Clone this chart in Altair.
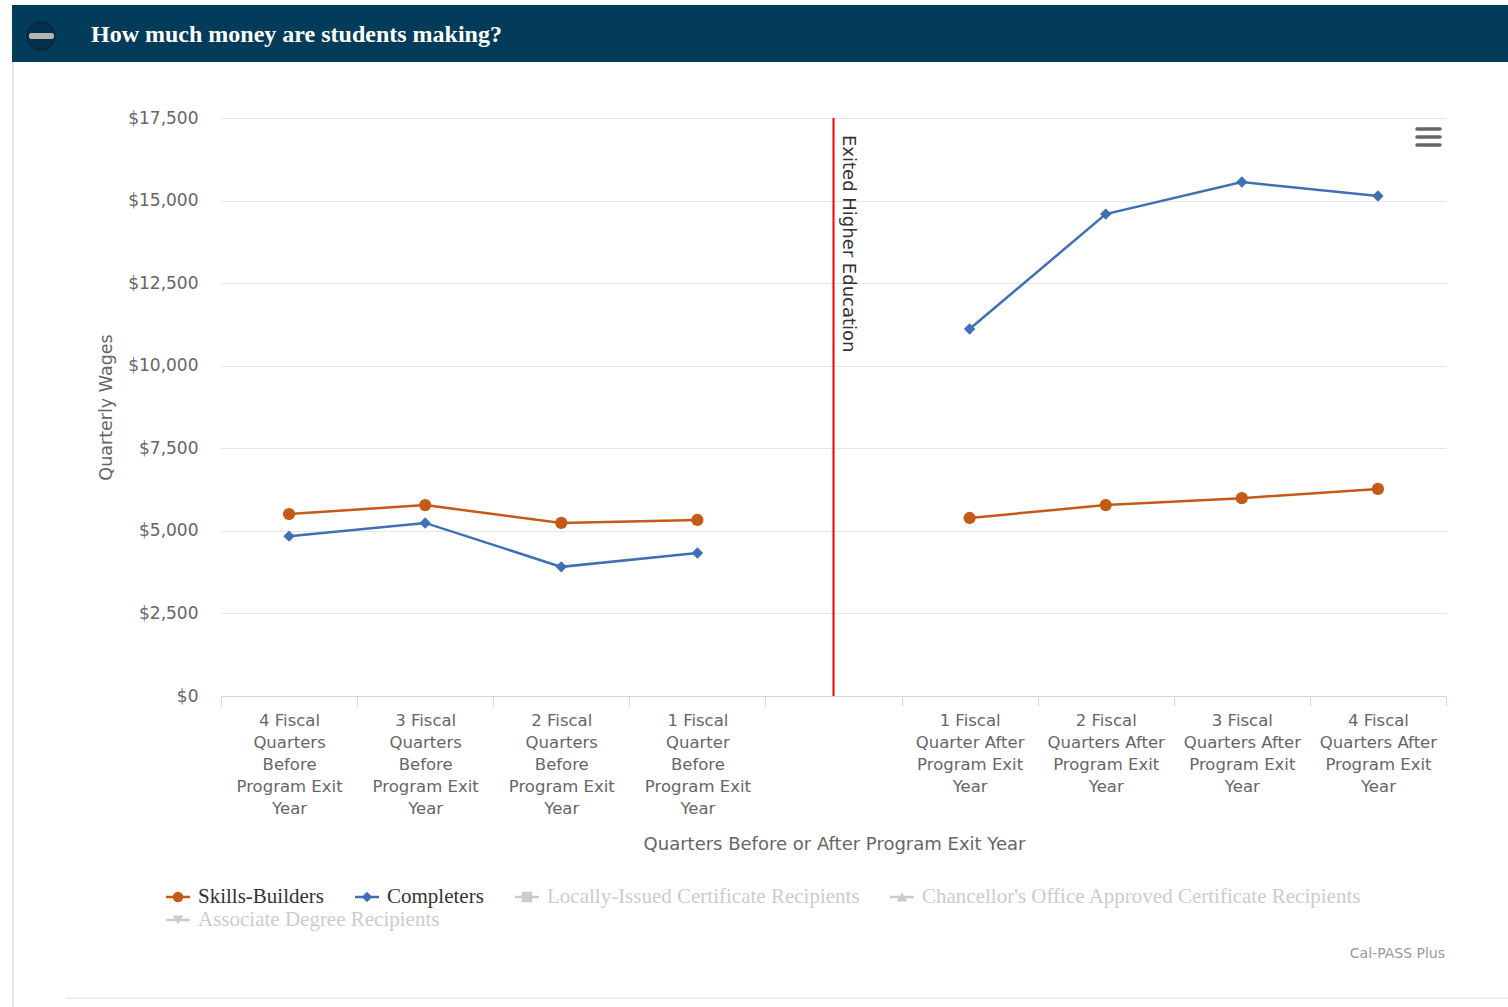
import altair as alt
import pandas as pd

# ---------------- data ----------------
categories = [
    "4 Fiscal|Quarters|Before|Program Exit|Year",
    "3 Fiscal|Quarters|Before|Program Exit|Year",
    "2 Fiscal|Quarters|Before|Program Exit|Year",
    "1 Fiscal|Quarter|Before|Program Exit|Year",
    " ",
    "1 Fiscal|Quarter After|Program Exit|Year",
    "2 Fiscal|Quarters After|Program Exit|Year",
    "3 Fiscal|Quarters After|Program Exit|Year",
    "4 Fiscal|Quarters After|Program Exit|Year",
]
phases = ["before", "before", "before", "before", None, "after", "after", "after", "after"]
exit_category = " "
exit_label = "Exited Higher Education"

series_names = ["Skills-Builders", "Completers"]
skills_builders = [5510, 5780, 5240, 5330, None, 5390, 5780, 5990, 6270]
completers = [4840, 5240, 3910, 4330, None, 11110, 14590, 15560, 15140]

y_ticks = [0, 2500, 5000, 7500, 10000, 12500, 15000, 17500]

legend_names = [
    "Skills-Builders",
    "Completers",
    "Locally-Issued Certificate Recipients",
    "Chancellor's Office Approved Certificate Recipients",
    "Associate Degree Recipients",
]
legend_shapes = ["circle", "diamond", "square", "triangle-up", "triangle-down"]
legend_active = [True, True, False, False, False]

panel_title = "How much money are students making?"
credit_text = "Cal-PASS Plus"
x_title = "Quarters Before or After Program Exit Year"
y_title = "Quarterly Wages"

# ---------------- styling / layout ----------------
ORANGE = "#c55a17"
BLUE = "#3f6fb5"
INACTIVE = "#cccccc"
HEADER = "#033b5a"
SANS = "DejaVu Sans"
SERIF = "Liberation Serif"

PAGE_W, PAGE_H = 1508, 1007
LEFT, TOP = 221, 118
W, H = 1225, 578

# legend item anchors (symbol centre line) in page pixels
legend_pos = [(166, 897), (355, 897), (515, 897), (890, 897), (166, 920)]


def px(x):
    return x - LEFT


def py(y):
    return y - TOP


# ---------------- long table for the series ----------------
rows = []
for name, vals in zip(series_names, [skills_builders, completers]):
    for cat, ph, v in zip(categories, phases, vals):
        if v is None:
            continue
        rows.append({"cat": cat, "series": name, "segment": f"{name}-{ph}", "value": v})
df = pd.DataFrame(rows)

x_enc = alt.X(
    "cat:N",
    sort=categories,
    bandPosition=0.5,
    scale=alt.Scale(type="band", domain=categories, paddingInner=0, paddingOuter=0),
    axis=alt.Axis(
        title=x_title,
        labelExpr="split(datum.label, '|')",
        labelAngle=0,
        labelFont=SANS,
        labelFontSize=16.5,
        labelLineHeight=22,
        labelColor="#666666",
        labelBaseline="top",
        labelPadding=6,
        labelOverlap=False,
        tickBand="extent",
        tickSize=10,
        tickColor="#ccd6eb",
        domainColor="#ccd6eb",
        grid=False,
        titleFont=SANS,
        titleFontSize=18,
        titleFontWeight="normal",
        titleColor="#666666",
        titleX=px(834),
        titleY=153,
        titleAlign="center",
        titleBaseline="alphabetic",
    ),
)

y_enc = alt.Y(
    "value:Q",
    scale=alt.Scale(domain=[0, 17500], nice=False, zero=True),
    axis=alt.Axis(
        title=y_title,
        values=y_ticks,
        format="$,.0f",
        labelFont=SANS,
        labelFontSize=17,
        labelColor="#666666",
        labelPadding=23,
        ticks=False,
        domain=False,
        grid=True,
        gridColor="#e6e6e6",
        titleFont=SANS,
        titleFontSize=17.5,
        titleFontWeight="normal",
        titleColor="#666666",
        titleX=-110,
        titleY=py(407),
        titleAngle=-90,
        titleAlign="center",
        titleBaseline="alphabetic",
    ),
)

color_enc = alt.Color(
    "series:N",
    scale=alt.Scale(domain=series_names, range=[ORANGE, BLUE]),
    legend=None,
)

lines = alt.Chart(df).mark_line(strokeWidth=2.5).encode(
    x=x_enc, y=y_enc, color=color_enc, detail="segment:N"
)
points = alt.Chart(df).mark_point(filled=True, opacity=1).encode(
    x=alt.X("cat:N", sort=categories, bandPosition=0.5),
    y="value:Q",
    color=color_enc,
    shape=alt.Shape(
        "series:N", scale=alt.Scale(domain=series_names, range=["circle", "diamond"]), legend=None
    ),
    size=alt.Size(
        "series:N", scale=alt.Scale(domain=series_names, range=[150, 130]), legend=None
    ),
)

# exit marker
exit_df = pd.DataFrame({"cat": [exit_category], "label": [exit_label]})
exit_rule = alt.Chart(exit_df).mark_rule(color="#ff0000", strokeWidth=2).encode(
    x=alt.X("cat:N", sort=categories, bandPosition=0.5),
    y=alt.value(0),
    y2=alt.value(H),
)
exit_text = alt.Chart(exit_df).mark_text(
    angle=90, align="left", baseline="alphabetic", dy=-9,
    font=SANS, fontSize=18, color="#333333",
).encode(
    x=alt.X("cat:N", sort=categories, bandPosition=0.5),
    y=alt.value(py(135)),
    text="label:N",
)

# ---------------- header panel ----------------
one = pd.DataFrame({"k": [0]})
header_bar = alt.Chart(one).mark_rect(color=HEADER).encode(
    x=alt.value(px(12)), x2=alt.value(px(PAGE_W)),
    y=alt.value(py(5)), y2=alt.value(py(62)),
)
header_title = alt.Chart(pd.DataFrame({"t": [panel_title]})).mark_text(
    align="left", baseline="alphabetic", font=SERIF, fontSize=24,
    fontWeight="bold", color="#ffffff",
).encode(x=alt.value(px(91)), y=alt.value(py(42)), text="t:N")
toggle_circle = alt.Chart(one).mark_point(
    shape="circle", filled=True, color="#03314d", size=760, opacity=1,
    stroke="#0b2536", strokeWidth=1.5,
).encode(x=alt.value(px(41)), y=alt.value(py(36)))
toggle_bar = alt.Chart(one).mark_rect(color="#b4b4b4", cornerRadius=2).encode(
    x=alt.value(px(29)), x2=alt.value(px(54)),
    y=alt.value(py(33)), y2=alt.value(py(39)),
)

# panel outline
left_border = alt.Chart(one).mark_rule(color="#e4e4e4", strokeWidth=2).encode(
    x=alt.value(px(13)), y=alt.value(py(62)), y2=alt.value(py(PAGE_H)),
)
bottom_border = alt.Chart(one).mark_rule(color="#ececec", strokeWidth=2).encode(
    x=alt.value(px(66)), x2=alt.value(px(PAGE_W)), y=alt.value(py(998)),
)

# menu (hamburger) icon
menu_layers = [
    alt.Chart(one).mark_rule(color="#666666", strokeWidth=3.5, strokeCap="round").encode(
        x=alt.value(px(1417)), x2=alt.value(px(1440)), y=alt.value(py(yy)),
    )
    for yy in (129, 137, 145)
]

# ---------------- legend ----------------
leg_layers = []
for name, shape, active, (lx, ly) in zip(legend_names, legend_shapes, legend_active, legend_pos):
    if active:
        c = ORANGE if name == series_names[0] else BLUE
        tc = "#333333"
    else:
        c = INACTIVE
        tc = INACTIVE
    ldf = pd.DataFrame({"name": [name]})
    leg_layers.append(
        alt.Chart(ldf).mark_rule(color=c, strokeWidth=2.5).encode(
            x=alt.value(px(lx)), x2=alt.value(px(lx + 24)), y=alt.value(py(ly)),
        )
    )
    leg_layers.append(
        alt.Chart(ldf).mark_point(shape=shape, filled=True, color=c, opacity=1, size=110).encode(
            x=alt.value(px(lx + 12)), y=alt.value(py(ly)),
        )
    )
    leg_layers.append(
        alt.Chart(ldf).mark_text(
            align="left", baseline="middle", font=SERIF, fontSize=21, color=tc,
        ).encode(x=alt.value(px(lx + 32)), y=alt.value(py(ly)), text="name:N")
    )

credit = alt.Chart(pd.DataFrame({"t": [credit_text]})).mark_text(
    align="right", baseline="alphabetic", font=SANS, fontSize=14, color="#999999",
).encode(x=alt.value(px(1445)), y=alt.value(py(958)), text="t:N")

chart = alt.layer(
    lines,
    points,
    exit_rule,
    exit_text,
    header_bar,
    toggle_circle,
    toggle_bar,
    header_title,
    left_border,
    bottom_border,
    *menu_layers,
    *leg_layers,
    credit,
).properties(
    width=W,
    height=H,
    autosize=alt.AutoSizeParams(type="none"),
    padding={"left": LEFT, "top": TOP, "right": PAGE_W - LEFT - W, "bottom": PAGE_H - TOP - H},
    background="#ffffff",
).resolve_scale(
    shape="independent", size="independent"
).configure_view(stroke=None)

chart.save("out.html", embed_options={"renderer": "svg", "actions": False})
